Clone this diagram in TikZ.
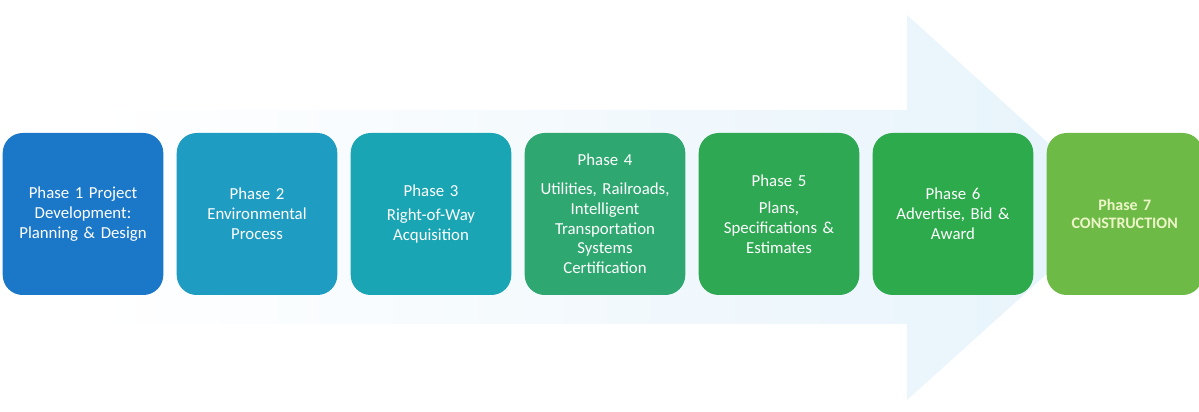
\documentclass[tikz,border=0pt]{standalone}
\usepackage{fontspec}
\setmainfont{Carlito}[WordSpace=0.8]
\usepackage{tikz}
\usetikzlibrary{positioning}

\definecolor{arrowlight}{RGB}{230,243,251}
\definecolor{ph1}{RGB}{27,120,200}
\definecolor{ph2}{RGB}{30,156,194}
\definecolor{ph3}{RGB}{26,165,180}
\definecolor{ph4}{RGB}{46,168,112}
\definecolor{ph5}{RGB}{46,168,82}
\definecolor{ph6}{RGB}{44,170,76}
\definecolor{ph7}{RGB}{110,186,70}
\definecolor{paleyellow}{RGB}{236,245,200}

\tikzset{
  phasebox/.style={rounded corners=20pt, minimum width=160.6pt, minimum height=162pt,
    inner sep=0pt, text width=156pt, align=center, text=white,
    font=\fontsize{16.8}{19.8}\selectfont},
}

\begin{document}
\begin{tikzpicture}[x=1pt,y=1pt]

\useasboundingbox (0,0) rectangle (1199,412);

% faint arrow behind the phases
\shade [left color=white, right color=arrowlight]
  (93,302) -- (907,302) -- (907,397) -- (1120,204) -- (907,12) -- (907,88) -- (93,88) -- cycle;

\node [phasebox, fill=ph1] (p1) at (83,198)
  {Phase 1 Project\\ Development:\\ Planning \& Design};
\node [phasebox, fill=ph2, right=13pt of p1] (p2)
  {Phase 2\\ Environmental\\ Process};
\node [phasebox, fill=ph3, right=13pt of p2] (p3)
  {Phase 3\\[4pt] Right-of-Way\\ Acquisition};
\node [phasebox, fill=ph4, right=13pt of p3] (p4)
  {Phase 4\\[9pt] Utilities, Railroads,\\ Intelligent\\ Transportation\\ Systems\\ Certification};
\node [phasebox, fill=ph5, right=13pt of p4] (p5)
  {Phase 5\\[8pt] Plans,\\ Specifications \&\\ Estimates};
\node [phasebox, fill=ph6, right=13pt of p5] (p6)
  {Phase 6\\ Advertise, Bid \&\\ Award};
\node [phasebox, fill=ph7, right=13pt of p6, minimum width=154pt, text=paleyellow,
  font=\fontsize{16}{18}\selectfont\bfseries] (p7)
  {Phase 7\\ CONSTRUCTION};

\end{tikzpicture}
\end{document}
